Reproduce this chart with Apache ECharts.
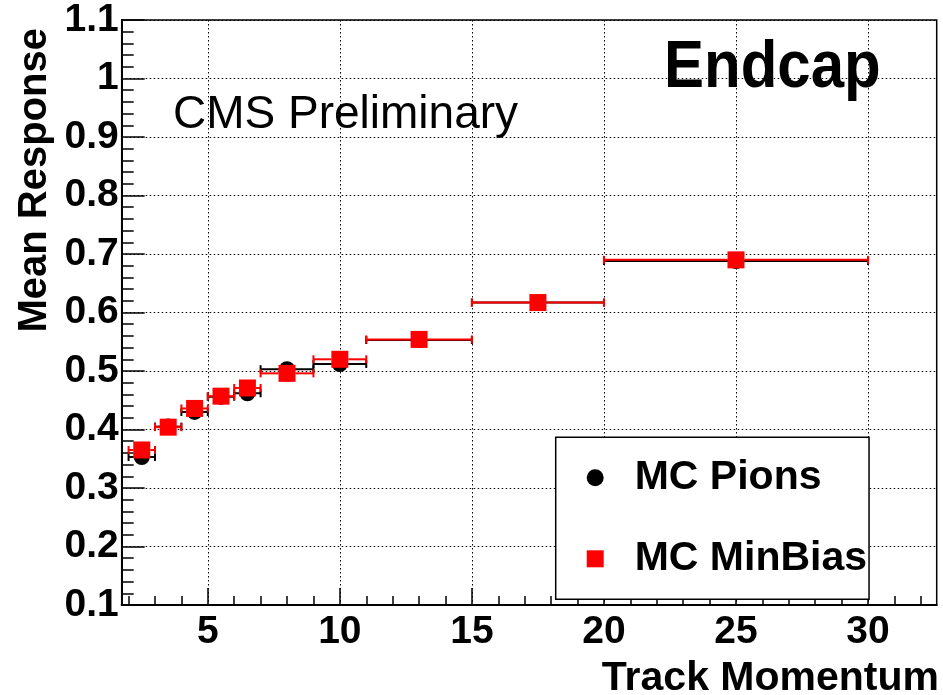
<!DOCTYPE html>
<html>
<head>
<meta charset="utf-8">
<script src="https://cdn.jsdelivr.net/npm/echarts@6/dist/echarts.min.js"></script>
<style>
html,body{margin:0;padding:0;background:#fff;}
#chart{width:943px;height:695px;}
</style>
</head>
<body>
<div id="chart"></div>
<script>
// ---- data ----
var binCenters = [2.5, 3.5, 4.5, 5.5, 6.5, 8, 10, 13, 17.5, 25];
var binLow     = [2, 3, 4, 5, 6, 7, 9, 11, 15, 20];
var binHigh    = [3, 4, 5, 6, 7, 9, 11, 15, 20, 30];
var mcPions    = [0.353, 0.405, 0.430, 0.456, 0.462, 0.503, 0.512, 0.553, 0.617, 0.688];
var mcMinBias  = [0.365, 0.404, 0.436, 0.457, 0.471, 0.496, 0.520, 0.554, 0.617, 0.690];
var xMajorTicks = [5, 10, 15, 20, 25, 30];
var xMinorTicks = [2,3,4,5,6,7,8,9,10,11,12,13,14,15,16,17,18,19,20,21,22,23,24,25,26,27,28,29,30,31,32];
var seriesNames = ['MC Pions', 'MC MinBias'];

var FONT = '"Liberation Sans", Arial, Helvetica, sans-serif';

function pts(vals) {
  return binCenters.map(function (c, i) { return [c, vals[i]]; });
}
function errs(vals) {
  return binCenters.map(function (c, i) { return [c, vals[i], binLow[i], binHigh[i]]; });
}
function errRender(color, gap) {
  return function (params, api) {
    var c = api.value(0), y = api.value(1), lo = api.value(2), hi = api.value(3);
    var pLo = api.coord([lo, y]), pHi = api.coord([hi, y]), pC = api.coord([c, y]);
    var h = 4;
    var st = { stroke: color, lineWidth: 2 };
    var ch = [];
    if (pC[0] - gap > pLo[0]) ch.push({ type: 'line', shape: { x1: pLo[0], y1: pC[1], x2: pC[0] - gap, y2: pC[1] }, style: st });
    if (pHi[0] > pC[0] + gap) ch.push({ type: 'line', shape: { x1: pC[0] + gap, y1: pC[1], x2: pHi[0], y2: pC[1] }, style: st });
    ch.push({ type: 'line', shape: { x1: pLo[0], y1: pC[1] - h, x2: pLo[0], y2: pC[1] + h }, style: st });
    ch.push({ type: 'line', shape: { x1: pHi[0], y1: pC[1] - h, x2: pHi[0], y2: pC[1] + h }, style: st });
    return { type: 'group', children: ch };
  };
}

var chart = echarts.init(document.getElementById('chart'), null, { renderer: 'canvas' });
var xMin = 1.74, xMax = 32.6;
var option = {
  animation: false,
  backgroundColor: '#fff',
  grid: { left: 121.7, top: 20, width: 815, height: 585, show: true, borderColor: '#000', borderWidth: 1.5, backgroundColor: 'transparent' },
  xAxis: [
    {
      type: 'value', min: xMin, max: xMax, position: 'bottom',
      axisLine: { show: true, onZero: false, lineStyle: { color: '#000', width: 2 } },
      axisTick: { show: true, inside: true, length: 9, customValues: xMinorTicks, lineStyle: { color: '#000', width: 1.5 } },
      axisLabel: { show: false },
      splitLine: { show: false }
    },
    {
      type: 'value', min: xMin, max: xMax, position: 'bottom',
      axisLine: { show: false, onZero: false },
      axisTick: { show: true, inside: true, length: 17, customValues: xMajorTicks, lineStyle: { color: '#000', width: 1.5 } },
      axisLabel: { show: true, customValues: xMajorTicks, margin: 8, color: '#000', fontFamily: FONT, fontWeight: 'bold', fontSize: 39 },
      splitLine: { show: true, lineStyle: { color: '#000', width: 1, type: [1.5, 2.5] } }
    }
  ],
  yAxis: {
    type: 'value', min: 0.1, max: 1.1, interval: 0.1,
    axisLine: { show: true, onZero: false, lineStyle: { color: '#000', width: 2 } },
    axisTick: { show: true, inside: true, length: 23, lineStyle: { color: '#000', width: 1.5 } },
    minorTick: { show: true, splitNumber: 5, length: 12, lineStyle: { color: '#000', width: 1.5 } },
    axisLabel: { show: true, margin: 3, color: '#000', fontFamily: FONT, fontWeight: 'bold', fontSize: 39 },
    splitLine: { show: true, lineStyle: { color: '#000', width: 1, type: [1.5, 2.5] } }
  },
  legend: {
    left: 555.7, top: 437.3, orient: 'vertical', data: seriesNames,
    itemWidth: 17, itemHeight: 17, itemGap: 40, padding: [20, 2, 20, 31],
    borderColor: '#000', borderWidth: 1.5, backgroundColor: '#fff', selectedMode: false,
    itemStyle: { opacity: 1 },
    textStyle: { fontFamily: FONT, fontWeight: 'bold', fontSize: 41, color: '#000', lineHeight: 41, padding: [0, 0, 0, 26] }
  },
  graphic: [
    { type: 'text', left: 173, top: 92, style: { text: 'CMS Preliminary', font: 'normal 46px ' + FONT, fill: '#000' } },
    { type: 'text', x: 664, y: 69, scaleY: 1.1, style: { text: 'Endcap', font: 'bold 60px ' + FONT, fill: '#000', textAlign: 'left', textVerticalAlign: 'middle' } },
    { type: 'text', x: 939, y: 679, style: { text: 'Track Momentum', font: 'bold 41px ' + FONT, fill: '#000', textAlign: 'right', textVerticalAlign: 'middle' } },
    { type: 'text', x: 35, y: 28, rotation: Math.PI / 2, style: { text: 'Mean Response', font: 'bold 40px ' + FONT, fill: '#000', textAlign: 'right', textVerticalAlign: 'middle' } }
  ],
  series: [
    { name: 'errPions', type: 'custom', xAxisIndex: 0, z: 2, renderItem: errRender('#000', 8), encode: { x: [0, 2, 3], y: 1 }, data: errs(mcPions) },
    { name: seriesNames[0], type: 'scatter', xAxisIndex: 0, z: 3, symbol: 'circle', symbolSize: 16, itemStyle: { color: '#000', opacity: 1 }, data: pts(mcPions) },
    { name: 'errMinBias', type: 'custom', xAxisIndex: 0, z: 4, renderItem: errRender('#ff0000', 8.5), encode: { x: [0, 2, 3], y: 1 }, data: errs(mcMinBias) },
    { name: seriesNames[1], type: 'scatter', xAxisIndex: 0, z: 5, symbol: 'rect', symbolSize: 17, itemStyle: { color: '#ff0000', opacity: 1 }, data: pts(mcMinBias) }
  ]
};
chart.setOption(option);
</script>
</body>
</html>
